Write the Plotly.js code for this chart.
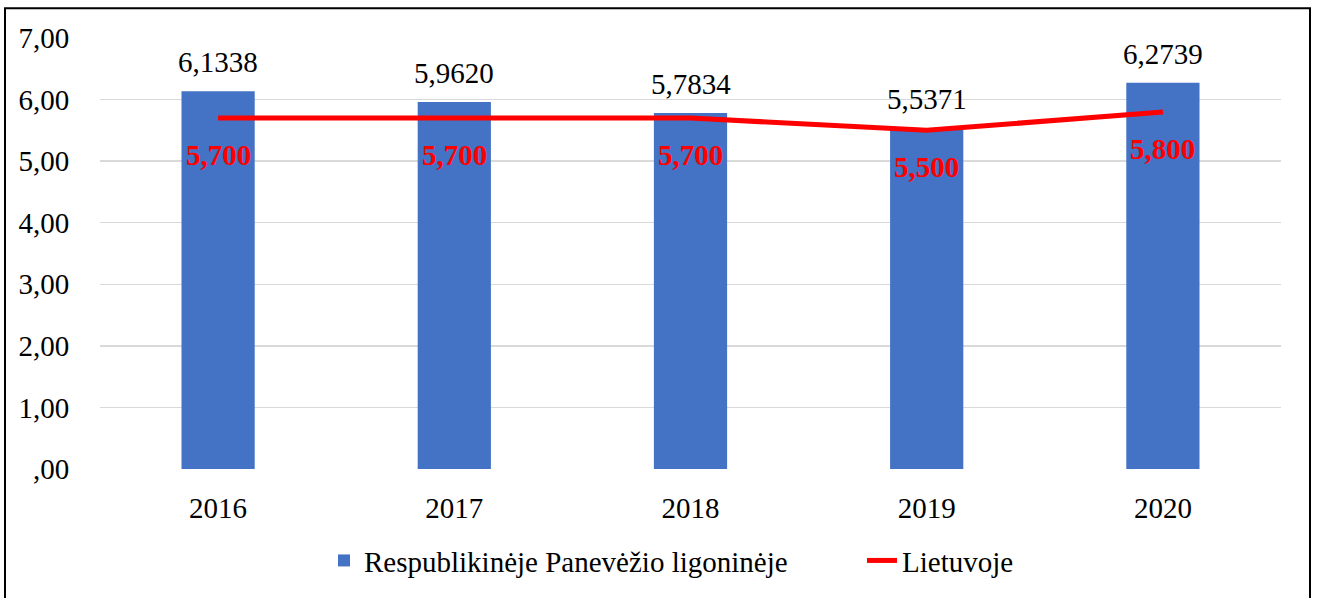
<!DOCTYPE html>
<html>
<head>
<meta charset="utf-8">
<script src="https://cdn.plot.ly/plotly-3.0.1.min.js"></script>
<style>html,body{margin:0;padding:0;background:#fff;}#chart{width:1318px;height:598px;}</style>
</head>
<body>
<div id="chart"></div>
<script>
const years = ["2016", "2017", "2018", "2019", "2020"];
const hospitalValues = [6.1338, 5.9620, 5.7834, 5.5371, 6.2739];
const lithuaniaValues = [5.7, 5.7, 5.7, 5.5, 5.8];
const yTickVals = [0, 1, 2, 3, 4, 5, 6, 7];
const yTickText = [",00", "1,00", "2,00", "3,00", "4,00", "5,00", "6,00", "7,00"];
const seriesNames = ["Respublikinėje Panevėžio ligoninėje", "Lietuvoje"];

const FONT = "Liberation Serif, Times New Roman, serif";
const FS = 29;

function fmt(v, d) { return v.toFixed(d).replace('.', ','); }

const traces = [
  {
    type: 'bar', x: years, y: hospitalValues, name: seriesNames[0],
    marker: {color: '#4472C4'}, width: 0.31, hoverinfo: 'skip', legend: 'legend'
  },
  {
    type: 'scatter', mode: 'lines', x: years, y: lithuaniaValues, name: seriesNames[1],
    line: {color: '#FF0000', width: 5}, hoverinfo: 'skip', legend: 'legend2'
  }
];

const annotations = [];
years.forEach((yr, i) => {
  annotations.push({
    x: i, y: hospitalValues[i], xref: 'x', yref: 'y', text: fmt(hospitalValues[i], 4),
    showarrow: false, yanchor: 'middle', yshift: 29,
    font: {family: FONT, size: FS, color: '#000'}
  });
  annotations.push({
    x: i, y: lithuaniaValues[i], xref: 'x', yref: 'y', text: '<b>' + fmt(lithuaniaValues[i], 3) + '</b>',
    showarrow: false, yanchor: 'middle', yshift: -37,
    font: {family: FONT, size: FS, color: '#FF0000'}
  });
});

const legendBase = {orientation: 'h', xanchor: 'left', y: -0.2125, yanchor: 'middle',
                    font: {family: FONT, size: FS, color: '#000'}, bgcolor: 'rgba(0,0,0,0)'};

const layout = {
  width: 1318, height: 598,
  margin: {l: 100, r: 37, t: 38, b: 127},
  paper_bgcolor: '#fff', plot_bgcolor: '#fff',
  font: {family: FONT, size: FS, color: '#000'},
  showlegend: true,
  legend: Object.assign({}, legendBase, {x: (324 - 100) / 1181}),
  legend2: Object.assign({}, legendBase, {x: (862 - 100) / 1181}),
  xaxis: {type: 'category', range: [-0.5, 4.5], autorange: false, showgrid: false, zeroline: false, showline: false,
          ticks: 'outside', ticklen: 13, tickcolor: 'rgba(0,0,0,0)',
          tickfont: {family: FONT, size: FS, color: '#000'}},
  yaxis: {range: [0, 7], autorange: false, tickvals: yTickVals, ticktext: yTickText,
          showgrid: true, gridcolor: '#D9D9D9', gridwidth: 1.5, zeroline: false, showline: false,
          ticks: 'outside', ticklen: 24, tickcolor: 'rgba(0,0,0,0)',
          tickfont: {family: FONT, size: FS, color: '#000'}},
  annotations: annotations,
  shapes: [{type: 'rect', xref: 'paper', yref: 'paper',
            x0: (5 - 100) / 1181, x1: (1310 - 100) / 1181,
            y0: -0.4, y1: (471 - 8) / 433,
            line: {color: '#000', width: 2}, fillcolor: 'rgba(0,0,0,0)'}]
};

Plotly.newPlot('chart', traces, layout, {staticPlot: true, displayModeBar: false});
</script>
</body>
</html>
